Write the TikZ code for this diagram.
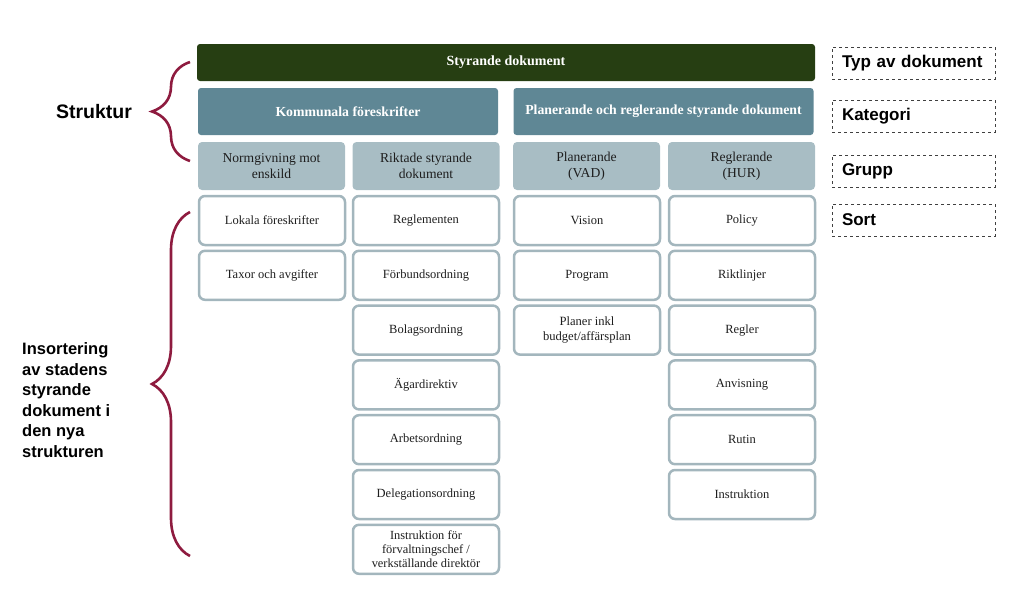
\documentclass[tikz,border=0pt]{standalone}
\usepackage{fontspec}
\setmainfont{Liberation Serif}
\newfontfamily\labelfont{Liberation Sans}
\usetikzlibrary{positioning, decorations.pathreplacing}
\definecolor{topgreen}{HTML}{263E12}
\definecolor{catblue}{HTML}{5F8795}
\definecolor{grpblue}{HTML}{A8BDC4}
\definecolor{sortline}{HTML}{A3B6BD}
\definecolor{bracered}{HTML}{8E1B3F}
\definecolor{boxtext}{HTML}{1E1E1E}

\begin{document}
\begin{tikzpicture}[x=1pt, y=-1pt, every node/.style={font=\fontsize{12.5}{14}\selectfont, text=boxtext}]

\tikzset{
  topbar/.style={rectangle, rounded corners=3pt, fill=topgreen, text=white,
    minimum width=618pt, minimum height=37pt, font=\bfseries\fontsize{14}{16}\selectfont},
  catbox/.style={rectangle, rounded corners=3pt, fill=catblue, text=white,
    minimum width=300pt, minimum height=47pt, font=\bfseries\fontsize{13.8}{16}\selectfont},
  grpbox/.style={rectangle, rounded corners=4pt, fill=grpblue, align=center,
    minimum width=147pt, minimum height=48pt, inner sep=2pt,
    font=\fontsize{13.6}{16}\selectfont},
  sortbox/.style={rectangle, rounded corners=6pt, draw=sortline, line width=2.5pt,
    fill=white, align=center, inner sep=2pt, minimum width=146pt, minimum height=49pt},
  kindlabel/.style={rectangle, draw=black!75, dashed, line width=0.9pt,
    minimum width=163pt, minimum height=32pt, text width=143pt, inner xsep=10pt,
    align=left, text=black, font=\labelfont\bfseries\fontsize{17}{19}\selectfont},
  sidelabel/.style={text=black, align=left, inner sep=0pt,
    font=\labelfont\bfseries\fontsize{16.5}{20.5}\selectfont},
  brace/.style={decorate, decoration={brace, amplitude=38pt}, draw=bracered, line width=2.6pt},
}

\useasboundingbox (0,0) rectangle (1024,597);

% ---- header rows ----
\node[topbar] (styr) at (506,62.5) {Styrande dokument};
\node[catbox] (kommunal) at (348,111.5) {Kommunala föreskrifter};
\node[catbox] (planreg) at (663.5,111.5) {Planerande och reglerande styrande dokument};
\node[grpbox] (normg) at (271.5,166) {Normgivning mot\\enskild};
\node[grpbox] (riktade) at (426,166) {Riktade styrande\\dokument};
\node[grpbox] (planer) at (586.5,166) {Planerande\\(VAD)};
\node[grpbox] (regler) at (741.5,166) {Reglerande\\(HUR)};

% ---- sort: normgivning ----
\node[sortbox] (lokala) at (272,220.5) {Lokala föreskrifter};
\node[sortbox, below=3.3pt of lokala] (taxor) {Taxor och avgifter};

% ---- sort: riktade ----
\node[sortbox] (reglem) at (426,220.5) {Reglementen};
\node[sortbox, below=3.3pt of reglem] (forbund) {Förbundsordning};
\node[sortbox, below=3.3pt of forbund] (bolag) {Bolagsordning};
\node[sortbox, below=3.3pt of bolag] (agar) {Ägardirektiv};
\node[sortbox, below=3.3pt of agar] (arbets) {Arbetsordning};
\node[sortbox, below=3.3pt of arbets] (deleg) {Delegationsordning};
\node[sortbox, below=3.3pt of deleg, font=\fontsize{12.4}{14}\selectfont] (instrfor)
  {Instruktion för\\förvaltningschef /\\verkställande direktör};

% ---- sort: planerande ----
\node[sortbox] (vision) at (587,220.5) {Vision};
\node[sortbox, below=3.3pt of vision] (program) {Program};
\node[sortbox, below=3.3pt of program, font=\fontsize{12.6}{15}\selectfont] (planinkl)
  {Planer inkl\\budget/affärsplan};

% ---- sort: reglerande ----
\node[sortbox] (policy) at (742,220.5) {Policy};
\node[sortbox, below=3.3pt of policy] (riktl) {Riktlinjer};
\node[sortbox, below=3.3pt of riktl] (reglr) {Regler};
\node[sortbox, below=3.3pt of reglr] (anvis) {Anvisning};
\node[sortbox, below=3.3pt of anvis] (rutin) {Rutin};
\node[sortbox, below=3.3pt of rutin] (instr) {Instruktion};

% ---- right: level labels ----
\node[kindlabel] (typ) at (913.5,63) {Typ av dokument};
\node[kindlabel] (kateg) at (913.5,116) {Kategori};
\node[kindlabel] (grupp) at (913.5,171) {Grupp};
\node[kindlabel] (sort) at (913.5,220) {Sort};

% ---- left: braces ----
\node[sidelabel, font=\labelfont\bfseries\fontsize{19.5}{22}\selectfont] (struktur) at (94,112) {Struktur};
\node[sidelabel, anchor=west] (insort) at (22,400)
  {Insortering\\av stadens\\styrande\\dokument i\\den nya\\strukturen};
\coordinate (sbot) at (190,161);
\coordinate (stop) at (190,62);
\coordinate (ibot) at (190,556);
\coordinate (itop) at (190,212);
\draw[brace] (sbot) -- (stop);
\draw[brace] (ibot) -- (itop);

\end{tikzpicture}
\end{document}
